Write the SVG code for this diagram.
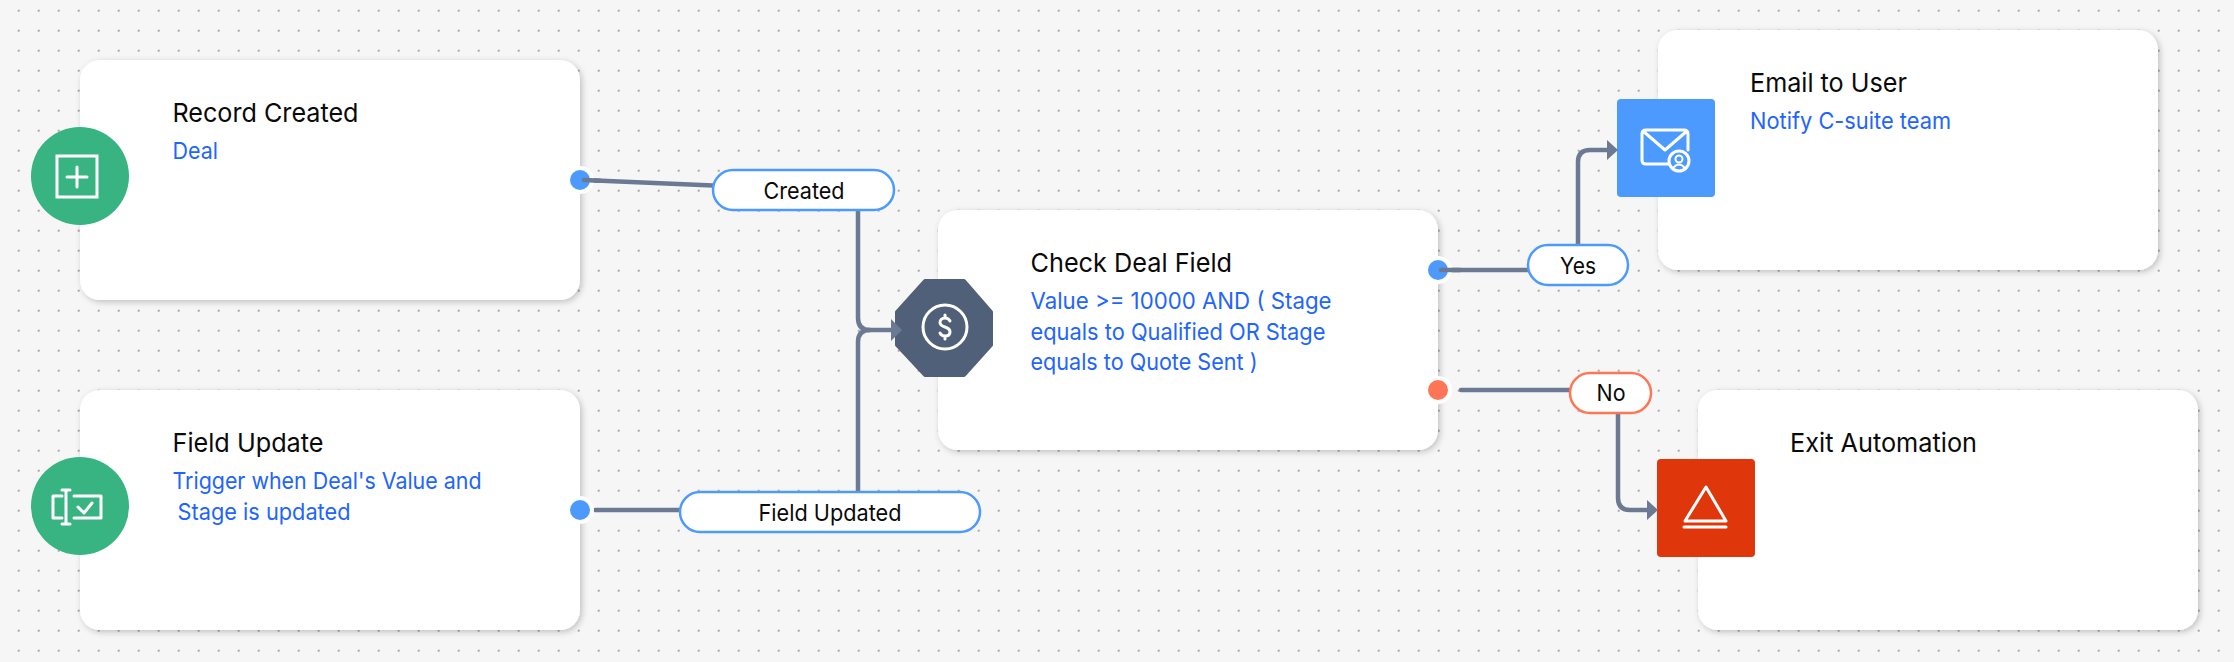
<svg xmlns="http://www.w3.org/2000/svg" width="2234" height="662" viewBox="0 0 2234 662">
<style>
.title{font:400 26px Inter,"Liberation Sans",sans-serif;fill:#0a0a0a}
.sub{font:400 23px Inter,"Liberation Sans",sans-serif;fill:#2164ff}
.pl{font:400 23px Inter,"Liberation Sans",sans-serif;fill:#0a0a0a;text-anchor:middle}
.card{fill:#fff;filter:url(#sh)}
.pill{fill:#fff;stroke:#4d9aff;stroke-width:2.5}
.pill.no{stroke:#ff7656}
.halo{fill:#fff}
.port{fill:#4d9aff}
.port.no{fill:#ff7656}
.ic{fill:none;stroke:#fff;stroke-width:3;stroke-linecap:round;stroke-linejoin:round}
.c{fill:none;stroke:#6b7a92;stroke-width:4.5;stroke-linecap:round}
.h{fill:#6b7a92}
</style>
<defs>
<pattern id="dots" width="20" height="20" patternUnits="userSpaceOnUse"><rect x="17.7" y="9.7" width="2" height="2" fill="#a8a8a8"/></pattern>
<filter id="sh" x="-5%" y="-5%" width="110%" height="112%"><feDropShadow dx="2" dy="2" stdDeviation="3" flood-color="#000" flood-opacity=".22"/></filter>
</defs>
<rect width="2234" height="662" fill="#f6f6f6"/>
<rect width="2234" height="662" fill="url(#dots)"/>

<g id="node-record-created">
<rect class="card" x="80" y="60" width="500" height="240" rx="20"/>
<circle cx="80" cy="176" r="49" fill="#38b382"/>
<rect x="57" y="156" width="40" height="41" fill="none" stroke="#fff" stroke-width="3"/>
<path class="ic" d="M67 177H87M77 167V187"/>
<text class="title" x="172.500" y="122" textLength="186" lengthAdjust="spacingAndGlyphs">Record Created</text>
<text class="sub" x="172.500" y="159" textLength="45.500" lengthAdjust="spacingAndGlyphs">Deal</text>
</g>

<g id="node-field-update">
<rect class="card" x="80" y="390" width="500" height="240" rx="20"/>
<circle cx="80" cy="506" r="49" fill="#38b382"/>
<path class="ic" d="M62 496H53V518H62M74 496H101V518H74M66 490V524M62 490H70M62 524H70M78 507L84 513L92 503"/>
<text class="title" x="172.500" y="452" textLength="151" lengthAdjust="spacingAndGlyphs">Field Update</text>
<text class="sub" x="172.500" y="489" textLength="309" lengthAdjust="spacingAndGlyphs">Trigger when Deal's Value and</text>
<text class="sub" x="177.500" y="520" textLength="173" lengthAdjust="spacingAndGlyphs">Stage is updated</text>
</g>

<g id="node-check-deal">
<rect class="card" x="938" y="210" width="500" height="240" rx="20"/>
<path d="M925 281H964L991 312V345L964 375H925L897 345V312Z" fill="#506079" stroke="#506079" stroke-width="4" stroke-linejoin="round"/>
<circle cx="945" cy="327" r="22" fill="none" stroke="#fff" stroke-width="3"/>
<path class="ic" d="M950 321C949 319 948 318 945 318C942 318 940 320 940 322.500C940 325 942 326 945 327C948 328 950 329.500 950 332C950 334.500 948 336 945 336C942 336 941 335 940 333M945 315V318M945 336V339"/>
<text class="title" x="1030.500" y="272" textLength="201.500" lengthAdjust="spacingAndGlyphs">Check Deal Field</text>
<text class="sub" x="1030.500" y="309" textLength="301" lengthAdjust="spacingAndGlyphs">Value &gt;= 10000 AND ( Stage</text>
<text class="sub" x="1030.500" y="340" textLength="295" lengthAdjust="spacingAndGlyphs">equals to Qualified OR Stage</text>
<text class="sub" x="1030.500" y="370" textLength="227" lengthAdjust="spacingAndGlyphs">equals to Quote Sent )</text>
</g>

<g id="node-email">
<rect class="card" x="1658" y="30" width="500" height="240" rx="20"/>
<rect x="1617" y="99" width="98" height="98" rx="4" fill="#4d9aff"/>
<path class="ic" d="M1669 164H1646Q1642 164 1642 160V134Q1642 130 1646 130H1684Q1688 130 1688 134V150M1643 131L1665 150L1687 131"/>
<circle cx="1679" cy="161" r="10" fill="#4d9aff" stroke="#fff" stroke-width="3"/>
<circle cx="1679" cy="159" r="3.500" fill="none" stroke="#fff" stroke-width="2"/>
<path d="M1673 168Q1679 161 1685 168" fill="none" stroke="#fff" stroke-width="2"/>
<text class="title" x="1750" y="92" textLength="157" lengthAdjust="spacingAndGlyphs">Email to User</text>
<text class="sub" x="1750" y="129" textLength="201" lengthAdjust="spacingAndGlyphs">Notify C-suite team</text>
</g>

<g id="node-exit">
<rect class="card" x="1698" y="390" width="500" height="240" rx="20"/>
<rect x="1657" y="459" width="98" height="98" rx="4" fill="#df360c"/>
<path class="ic" d="M1706 487L1726 521H1685ZM1684 527H1726"/>
<text class="title" x="1790" y="452" textLength="187" lengthAdjust="spacingAndGlyphs">Exit Automation</text>
</g>

<g id="connectors">
<path class="c" d="M584 180L713 185.500"/>
<path class="c" d="M595 510H680"/>
<path class="c" d="M858 211V318Q858 330 870 330H893"/>
<path class="c" d="M858 492V342Q858 330 870 330"/>
<path class="h" d="M891 319L902 330L891 341Z"/>
<path class="c" d="M1441 270H1528"/>
<path class="c" d="M1578 245V162Q1578 150 1590 150H1609"/>
<path class="h" d="M1607 140L1618 150L1607 160Z"/>
<path class="c" d="M1461 390H1570"/>
<path class="c" d="M1618 413V498Q1618 510 1630 510H1649"/>
<path class="h" d="M1647 500L1658 510L1647 520Z"/>
</g>

<g id="ports">
<circle class="halo" cx="580" cy="180" r="14"/><circle class="port" cx="580" cy="180" r="10"/>
<circle class="halo" cx="580" cy="510" r="14"/><circle class="port" cx="580" cy="510" r="10"/>
<circle class="halo" cx="1438" cy="270" r="14"/><circle class="port" cx="1438" cy="270" r="10"/>
<circle class="halo" cx="1438" cy="390" r="14"/><circle class="port no" cx="1438" cy="390" r="10"/>
<path class="c" d="M584 180L600 180.700"/>
<path class="c" d="M1441 270H1460"/>
</g>

<g id="label-created"><rect class="pill" x="713" y="170" width="181" height="40" rx="20"/><text class="pl" x="804" y="199" textLength="81" lengthAdjust="spacingAndGlyphs">Created</text></g>
<g id="label-field-updated"><rect class="pill" x="680" y="492" width="300" height="40" rx="20"/><text class="pl" x="830" y="521" textLength="143" lengthAdjust="spacingAndGlyphs">Field Updated</text></g>
<g id="label-yes"><rect class="pill" x="1528" y="245" width="100" height="40" rx="20"/><text class="pl" x="1578" y="274" textLength="36" lengthAdjust="spacingAndGlyphs">Yes</text></g>
<g id="label-no"><rect class="pill no" x="1570" y="373" width="81" height="40" rx="20"/><text class="pl" x="1611" y="401" textLength="29" lengthAdjust="spacingAndGlyphs">No</text></g>
</svg>
